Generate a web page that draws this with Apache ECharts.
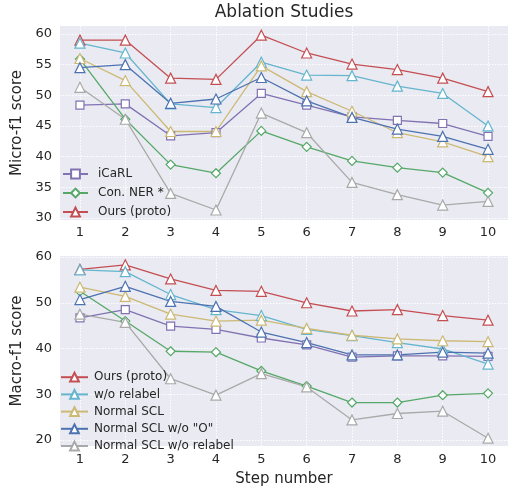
<!DOCTYPE html>
<html>
<head>
<meta charset="utf-8">
<script src="https://cdn.jsdelivr.net/npm/echarts@6/dist/echarts.min.js"></script>
<style>html,body{margin:0;padding:0;background:#fff}#c{width:508px;height:488px}</style>
</head>
<body>
<div id="c"></div>
<script>
var steps = [1, 2, 3, 4, 5, 6, 7, 8, 9, 10];
var microTicks = [30, 35, 40, 45, 50, 55, 60];
var macroTicks = [20, 30, 40, 50, 60];

// Micro-f1 (top panel)
var icarlMicro  = [48.4, 48.6, 43.4, 43.9, 50.3, 48.4, 46.5, 45.9, 45.4, 43.3];
var conMicro    = [55.9, 46.1, 38.7, 37.3, 44.2, 41.6, 39.3, 38.2, 37.4, 34.1];
var oursMicro   = [59.0, 59.0, 52.8, 52.6, 59.8, 56.9, 55.1, 54.2, 52.8, 50.6];
var woRelMicro  = [58.5, 56.9, 48.6, 48.0, 55.4, 53.3, 53.2, 51.5, 50.3, 45.0];
var sclMicro    = [56.0, 52.4, 44.1, 44.1, 54.8, 50.6, 47.4, 43.9, 42.4, 40.0];
var sclOMicro   = [54.5, 55.0, 48.7, 49.4, 52.9, 49.1, 46.4, 44.5, 43.3, 41.2];
var sclRelMicro = [51.3, 46.1, 34.0, 31.3, 47.1, 43.9, 35.8, 33.8, 32.1, 32.7];

// Macro-f1 (bottom panel)
var icarlMacro  = [46.7, 48.5, 44.9, 44.2, 42.3, 40.8, 38.1, 38.4, 38.4, 38.3];
var conMacro    = [52.5, 46.0, 39.4, 39.2, 35.1, 31.8, 28.2, 28.2, 29.8, 30.2];
var oursMacro   = [57.3, 58.3, 55.2, 52.7, 52.5, 50.0, 48.2, 48.5, 47.2, 46.2];
var woRelMacro  = [57.2, 56.8, 51.8, 48.5, 47.2, 44.2, 42.8, 41.3, 39.9, 36.6];
var sclMacro    = [53.4, 51.4, 47.5, 46.0, 46.2, 44.4, 42.9, 42.1, 41.7, 41.5];
var sclOMacro   = [50.7, 53.6, 50.3, 49.2, 43.6, 41.3, 38.6, 38.6, 39.2, 39.0];
var sclRelMacro = [47.5, 45.7, 33.4, 29.8, 34.5, 31.6, 24.4, 25.8, 26.3, 20.4];

var names = ['iCaRL', 'Con. NER *', 'Ours (proto)', 'w/o relabel', 'Normal SCL', 'Normal SCL w/o "O"', 'Normal SCL w/o relabel'];
var colors = ['#8172B2', '#55A868', '#C44E52', '#64B5CD', '#CCB974', '#4C72B0', '#A9A9A9'];
var symbols = ['rect', 'diamond', 'triangle', 'triangle', 'triangle', 'triangle', 'triangle'];
var sizes = [8, 9, 10, 10, 10, 10, 10];
var microData = [icarlMicro, conMicro, oursMicro, woRelMicro, sclMicro, sclOMicro, sclRelMicro];
var macroData = [icarlMacro, conMacro, oursMacro, woRelMacro, sclMacro, sclOMacro, sclRelMacro];

var font = 'DejaVu Sans';
var txt = '#262626';
var gridLine = {show: true, lineStyle: {color: '#ffffff', width: 1, type: [1.5, 1.5]}};

function mk(arr, idx, gi) {
  return {
    name: names[idx], type: 'line', xAxisIndex: gi, yAxisIndex: gi,
    data: steps.map(function (s, i) { return [s, arr[i]]; }),
    symbol: symbols[idx], symbolSize: sizes[idx], showSymbol: true,
    itemStyle: {color: '#ffffff', borderColor: colors[idx], borderWidth: 1.2},
    lineStyle: {color: colors[idx], width: 1.3},
    emphasis: {disabled: true}, animation: false
  };
}
var series = [];
for (var i = 0; i < 7; i++) series.push(mk(microData[i], i, 0));
for (var j = 0; j < 7; j++) series.push(mk(macroData[j], j, 1));

function xAx(gi, margin, withName) {
  var o = {
    type: 'value', gridIndex: gi, min: 0.56, max: 10.44,
    axisLine: {show: false},
    axisTick: {show: false, customValues: steps},
    axisLabel: {customValues: steps, color: txt, fontFamily: font, fontSize: 13, margin: margin},
    splitLine: gridLine
  };
  if (withName) {
    o.name = 'Step number'; o.nameLocation = 'middle'; o.nameGap = 26;
    o.nameTextStyle = {color: txt, fontFamily: font, fontSize: 15};
  }
  return o;
}
function yAx(gi, mn, mx, ticks, name) {
  return {
    type: 'value', gridIndex: gi, min: mn, max: mx,
    axisLine: {show: false},
    axisTick: {show: false, customValues: ticks},
    axisLabel: {customValues: ticks, color: txt, fontFamily: font, fontSize: 13, margin: 8},
    splitLine: gridLine,
    name: name, nameLocation: 'middle', nameGap: 26,
    nameTextStyle: {color: txt, fontFamily: font, fontSize: 15}
  };
}

var chart = echarts.init(document.getElementById('c'), null, {renderer: 'canvas'});
chart.setOption({
  animation: false,
  title: {text: 'Ablation Studies', left: 284, top: 4, textAlign: 'center', padding: 0,
    textStyle: {color: txt, fontFamily: font, fontSize: 17, fontWeight: 'normal'}},
  grid: [
    {left: 60, top: 26, width: 450, height: 194, show: true, backgroundColor: '#EAEAF2', borderWidth: 0},
    {left: 60, top: 256, width: 450, height: 192, show: true, backgroundColor: '#EAEAF2', borderWidth: 0}
  ],
  xAxis: [xAx(0, 6, false), xAx(1, 7, true)],
  yAxis: [yAx(0, 29.67, 61.3, microTicks, 'Micro-f1 score'), yAx(1, 18.7, 60.22, macroTicks, 'Macro-f1 score')],
  legend: [
    {data: ['iCaRL', 'Con. NER *', 'Ours (proto)'], orient: 'vertical', left: 62, top: 168, padding: 0,
      itemWidth: 25, itemHeight: 11, itemGap: 7, selectedMode: false,
      textStyle: {color: txt, fontFamily: font, fontSize: 12, lineHeight: 11, padding: [0, 0, 0, 5]}},
    {data: ['Ours (proto)', 'w/o relabel', 'Normal SCL', 'Normal SCL w/o "O"', 'Normal SCL w/o relabel'],
      orient: 'vertical', left: 60, top: 371.2, padding: 0,
      itemWidth: 27, itemHeight: 11, itemGap: 5.2, selectedMode: false,
      textStyle: {color: txt, fontFamily: font, fontSize: 12, lineHeight: 11, padding: [0, 0, 0, 1]}}
  ],
  series: series
});
</script>
</body>
</html>
